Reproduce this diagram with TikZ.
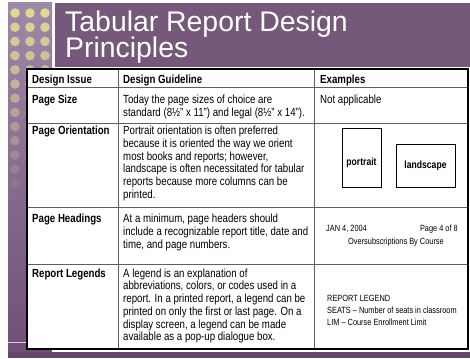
\documentclass[tikz,border=0pt]{standalone}
\usepackage{fontspec}
\setmainfont{Liberation Sans}
\newfontfamily\narrowfont[FakeStretch=0.82]{Liberation Sans}
\usepackage{xcolor}
\definecolor{slidepurple}{RGB}{118, 89, 122}
\definecolor{striptop}{RGB}{160, 136, 170}
\definecolor{stripbot}{RGB}{110, 80, 116}
\definecolor{dotyellow}{RGB}{218, 218, 145}
\definecolor{gridgray}{RGB}{95, 95, 95}
\definecolor{stripline}{RGB}{228, 205, 228}

\begin{document}
\begin{tikzpicture}[x=1pt, y=-1pt,
  cell/.style={anchor=north west, inner sep=0pt, align=left,
    font=\narrowfont\fontsize{11.8}{12.7}\selectfont},
  issue/.style={cell, font=\narrowfont\bfseries\fontsize{11.8}{12.7}\selectfont},
  small/.style={inner sep=0pt, font=\narrowfont\fontsize{9}{10}\selectfont},
  label/.style={inner sep=0pt, font=\narrowfont\bfseries\fontsize{10.5}{11}\selectfont},
  sheet/.style={label, draw, line width=0.8pt}]
\useasboundingbox (0,0) rectangle (470,358);

% Left strip with fading dots
\shade[top color=striptop, bottom color=stripbot] (8,3) rectangle (52,352);
\foreach \row in {0,...,14} {
  \pgfmathsetmacro{\fade}{max(0,1-0.075*\row)}
  \foreach \col in {15,30,45}
    \fill[dotyellow, opacity=\fade] (\col,13+14.2*\row) circle (4.8);
}
\draw[stripline, line width=1pt] (8,342) -- (27,342);

% Title band
\fill[slidepurple] (55,3) rectangle (470,67);
\node[anchor=north west, inner sep=0pt, align=left, text=white,
  font=\fontsize{28.4}{26.5}\selectfont] (title) at (65,10.5)
  {Tabular Report Design\\Principles};

% Bottom band
\fill[stripbot!90!black] (8,352) rectangle (470,358);

% Table frame and rules
\fill[white] (27,69) rectangle (468,349);
\draw[gridgray, line width=0.8pt] (118,69) -- (118,349);
\draw[gridgray, line width=0.8pt] (314,69) -- (314,349);
\foreach \y in {87.5,123,207,264}
  \draw[gridgray, line width=0.8pt] (27,\y) -- (468,\y);
\draw[black, line width=1.3pt] (27,69) rectangle (468,349);

% Header row
\node[issue] (hdrIssue) at (32,74.5) {Design Issue};
\node[issue] (hdrGuide) at (123,74.5) {Design Guideline};
\node[issue] (hdrExamples) at (320,74.5) {Examples};

% Page size
\node[issue] (sizeIssue) at (32,95) {Page Size};
\node[cell] (sizeGuide) at (123,95)
  {Today the page sizes of choice are\\standard (8½” x 11”) and legal (8½” x 14”).};
\node[cell] (sizeEx) at (320,95) {Not applicable};

% Page orientation
\node[issue] (orientIssue) at (32,126) {Page Orientation};
\node[cell] (orientGuide) at (123,126)
  {Portrait orientation is often preferred\\because it is oriented the way we orient\\
   most books and reports; however,\\landscape is often necessitated for tabular\\
   reports because more columns can be\\printed.};
\node[sheet, minimum width=39, minimum height=59] (portraitBox) at (361.5,158) {};
\node[label] (portraitText) at (361.5,163) {portrait};
\node[sheet, minimum width=59, minimum height=43] (landscapeBox) at (425.5,166) {landscape};

% Page headings
\node[issue] (headIssue) at (32,214) {Page Headings};
\node[cell] (headGuide) at (123,214)
  {At a minimum, page headers should\\include a recognizable report title, date and\\
   time, and page numbers.};
\node[small, anchor=west] (headDate) at (326,229) {JAN 4, 2004};
\node[small, anchor=east] (headPage) at (458,229) {Page 4 of 8};
\node[small] (headTitle) at (396,242) {Oversubscriptions By Course};

% Report legends
\node[issue] (legIssue) at (32,268.5) {Report Legends};
\node[cell] (legGuide) at (123,268.5)
  {A legend is an explanation of\\abbreviations, colors, or codes used in a\\
   report. In a printed report, a legend can be\\printed on only the first or last page. On a\\
   display screen, a legend can be made\\available as a pop-up dialogue box.};
\node[small, anchor=west] (legTitle) at (327,298) {REPORT LEGEND};
\node[small, anchor=west] (legSeats) at (327,310) {SEATS – Number of seats in classroom};
\node[small, anchor=west] (legLim) at (327,322) {LIM – Course Enrollment Limit};
\end{tikzpicture}
\end{document}
